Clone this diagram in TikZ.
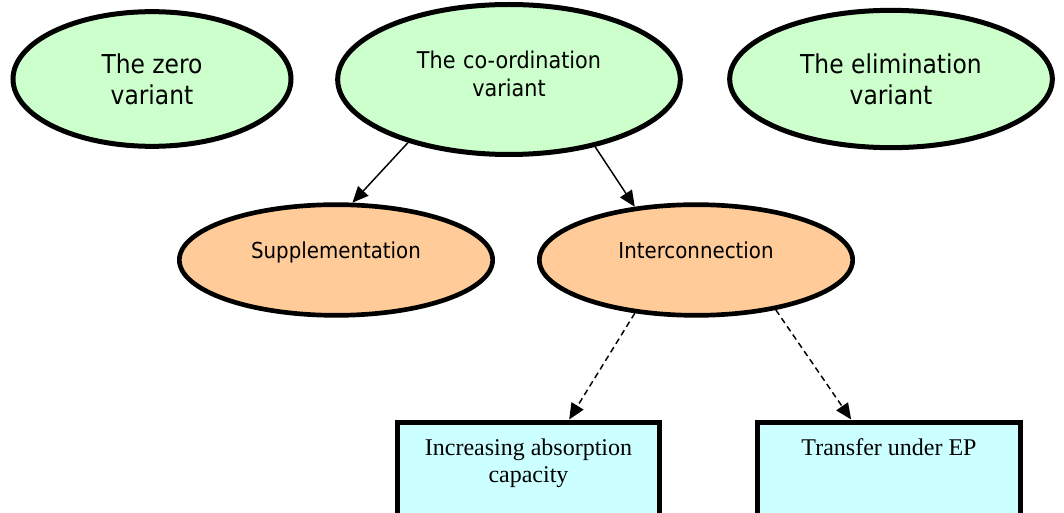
\documentclass[tikz,border=0pt]{standalone}
\usepackage{fontspec}
\setmainfont{Liberation Serif}
\newfontfamily\ovalfont{DejaVu Sans Condensed}
\usepackage{xcolor}
\usepackage{tikz}
\usetikzlibrary{shapes.geometric, positioning}
\usetikzlibrary{arrows.meta}
\tikzset{>={Triangle[width=10.5pt,length=12pt]}}
\definecolor{variantgreen}{HTML}{CCFFCC}
\definecolor{modeorange}{HTML}{FFCC99}
\definecolor{resultcyan}{HTML}{CCFFFF}

\begin{document}
\begin{tikzpicture}[x=0.75pt, y=-0.75pt, variant/.style={ellipse, draw=black, fill=variantgreen, line width=3.75pt, inner sep=0pt, align=center, font=\ovalfont\fontsize{19.5}{23.25}\selectfont}, mode/.style={ellipse, draw=black, fill=modeorange, line width=3.5pt, inner sep=0pt, minimum width=235pt, minimum height=83pt, text height=12pt, text depth=13.5pt, font=\ovalfont\fontsize{16.5}{20}\selectfont}, result/.style={rectangle, draw=black, fill=resultcyan, line width=3.75pt, inner sep=0pt, anchor=north, font=\fontsize{18}{20}\selectfont}, link/.style={->, line width=1.1pt}, weaklink/.style={->, line width=1.1pt, dash pattern=on 4.5pt off 3pt}]

    \useasboundingbox (0,0) rectangle (1064,513);
    \clip (0,0) rectangle (1064,513);

    %Nodes
    \node[variant, minimum width=208.5pt, minimum height=101pt](zero) at (152,79){The zero\\variant};
    \node[variant, minimum width=257pt, minimum height=112.5pt, text width=142pt, text height=14pt, text depth=31pt, font=\ovalfont\fontsize{17.3}{21}\selectfont](coord) at (509,79.5){The co-ordination\\variant};
    \node[variant, minimum width=242pt, minimum height=103pt](elim) at (891,79){The elimination\\variant};
    \node[mode](supp) at (336,260){Supplementation};
    \node[mode](inter) at (696,260){Interconnection};
    \node[result](absorb) at (528.5,419.5){\parbox[c][71.6pt][t]{196.5pt}{\centering\rule{0pt}{25pt}Increasing absorption\\capacity}};
    \node[result](transfer) at (889,419.5){\parbox[c][71.6pt][t]{197pt}{\centering\rule{0pt}{25pt}Transfer under EP}};

    %Lines
    \draw[link] (coord.212) -- (supp.74);
    \draw[link] (coord.322) -- (inter.139);
    \draw[weaklink] (inter.221) -- (absorb.51);
    \draw[weaklink] (inter.328) -- (transfer.127);

\end{tikzpicture}
\end{document}
